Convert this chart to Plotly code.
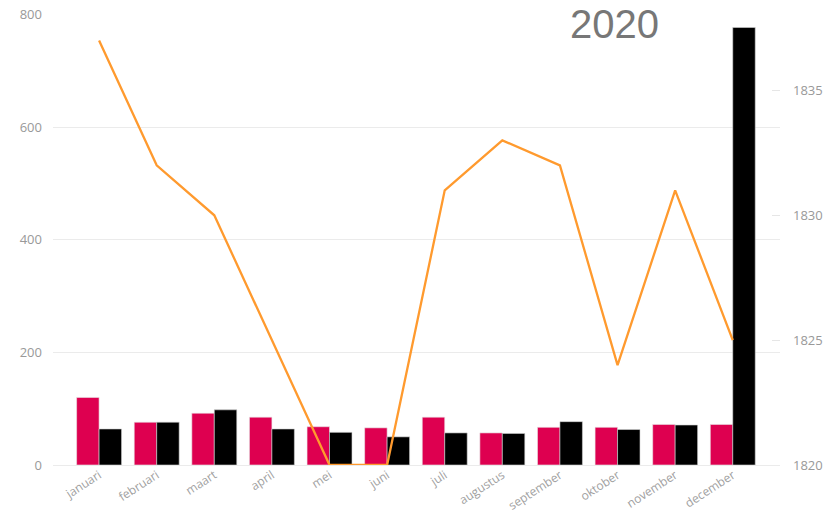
import plotly.graph_objects as go

months = ["januari", "februari", "maart", "april", "mei", "juni", "juli",
          "augustus", "september", "oktober", "november", "december"]
pink_values = [120, 76, 92, 85, 68, 66, 85, 57, 67, 67, 72, 72]
black_values = [64, 76, 98, 64, 58, 50, 57, 56, 77, 63, 71, 777]
line_values = [1837, 1832, 1830, 1825, 1820, 1820, 1831, 1833, 1832, 1824, 1831, 1825]
left_ticks = [0, 200, 400, 600, 800]
right_ticks = [1820, 1825, 1830, 1835]
title_text = "2020"

font_family = "Open Sans, DejaVu Sans, sans-serif"

fig = go.Figure()
fig.add_trace(go.Bar(x=months, y=pink_values, marker=dict(color="#DE0050", line=dict(color="#E8E8E8", width=0.6)),
                     name="a", yaxis="y"))
fig.add_trace(go.Bar(x=months, y=black_values, marker=dict(color="#000000", line=dict(color="#D0D0D0", width=0.6)),
                     name="b", yaxis="y"))
fig.add_trace(go.Scatter(x=months, y=line_values, mode="lines", line=dict(color="#FF9A2E", width=2.3),
                         name="c", yaxis="y2"))

# page body has an 8px margin, so the figure is sized to fit inside it
fig.update_layout(
    width=816, height=504,
    margin=dict(l=45, r=44, t=6, b=47, autoexpand=False),
    paper_bgcolor="white", plot_bgcolor="white",
    showlegend=False,
    barmode="group", bargap=0.22, bargroupgap=0,
    font=dict(family=font_family, color="#999999", size=12),
    xaxis=dict(range=[-0.8, 11.82], tickangle=-33, tickfont=dict(size=12, color="#A0A0A0"),
               showgrid=False, showline=False, ticks="", zeroline=False, automargin=False,
               ticklabeloverflow="allow"),
    yaxis=dict(range=[0, 801], tickvals=left_ticks, showgrid=True, gridcolor="#EBEBEB",
               gridwidth=1, zeroline=True, zerolinecolor="#EBEBEB", zerolinewidth=1,
               showline=False, ticks="", ticklabelstandoff=10, automargin=False,
               ticklabeloverflow="allow", tickfont=dict(size=13, color="#999999")),
    yaxis2=dict(range=[1820, 1838.06], tickvals=right_ticks, overlaying="y", side="right",
                showgrid=False, zeroline=False, showline=False, ticks="inside", ticklen=8,
                tickcolor="#E6E6E6", ticklabelstandoff=12, automargin=False,
                ticklabeloverflow="allow", tickfont=dict(size=13, color="#999999")),
    annotations=[dict(text=title_text, x=(614 - 53) / 727, y=(465 - 24) / 451, xref="paper", yref="paper",
                      xanchor="center", yanchor="middle", showarrow=False,
                      font=dict(size=40, color="#777777", family="Liberation Sans, Arial, sans-serif"))],
)

fig.write_html("out.html")
